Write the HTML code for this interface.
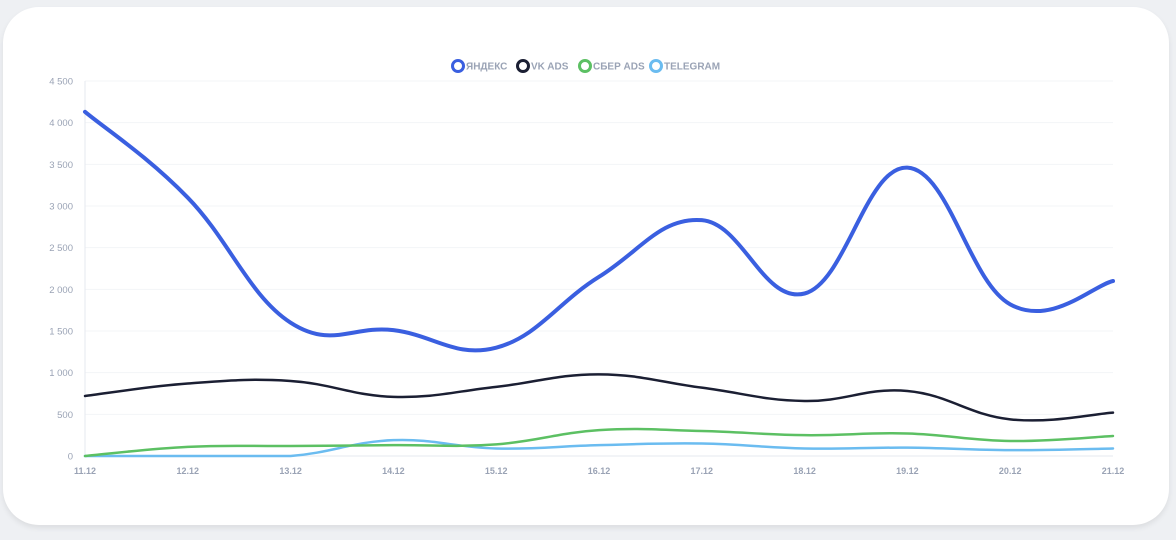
<!DOCTYPE html>
<html><head><meta charset="utf-8"><style>
html,body{margin:0;padding:0;background:#eef0f3;width:1176px;height:540px;overflow:hidden;font-family:"Liberation Sans",sans-serif}
.card{position:absolute;left:3px;top:7px;width:1166px;height:518px;background:#fff;border-radius:36px;box-shadow:0 3px 6px rgba(0,0,0,0.08)}
svg{position:absolute;left:0;top:0}
</style></head><body>
<div class="card"></div>
<svg id="s" width="1176" height="540" xmlns="http://www.w3.org/2000/svg" font-family="Liberation Sans, sans-serif"></svg>
<script>
const s=document.getElementById('s');
const x0=85,dx=102.8,y0=456,k=375/4500;
let h='';
for(let v=0;v<=4500;v+=500){const y=y0-v*k;
 if(v>0)h+=`<line x1="85" x2="1113" y1="${y}" y2="${y}" stroke="#f3f4f7" stroke-width="1"/>`;
 h+=`<text x="73" y="${y+3.5}" font-size="9.5" fill="#9aa3b5" text-anchor="end">${v>=1000?Math.floor(v/1000)+' '+String(v%1000).padStart(3,'0'):v}</text>`;}
h+=`<line x1="85" x2="85" y1="81" y2="456" stroke="#e6e9ef"/>`;
h+=`<line x1="85" x2="1113" y1="456" y2="456" stroke="#e6e9ef"/>`;
for(let i=0;i<11;i++)h+=`<text x="${x0+i*dx}" y="474" font-size="9" font-weight="bold" fill="#9aa3b5" text-anchor="middle">${11+i}.12</text>`;
const data=[
 ['#3a5fe0',4,[4130,3100,1600,1510,1300,2150,2830,1950,3460,1820,2100]],
 ['#1b1f33',2.5,[720,870,900,710,830,980,820,660,780,440,520]],
 ['#5cc063',2.5,[0,110,120,130,140,310,300,250,270,180,240]],
 ['#6bbcf0',2.5,[0,0,0,190,90,130,150,90,100,70,90]]];
function path(d){const p=d.map((v,i)=>[x0+i*dx,y0-v*k]);const n=p.length;const t=0.2;
 const cl=y=>Math.min(y,y0);
 let s=`M${p[0][0]},${p[0][1]}`;
 for(let i=0;i<n-1;i++){const a=p[i-1]||p[i],b=p[i],c=p[i+1],e=p[i+2]||c;
  s+=` C${b[0]+(c[0]-a[0])*t},${cl(b[1]+(c[1]-a[1])*t)} ${c[0]-(e[0]-b[0])*t},${cl(c[1]-(e[1]-b[1])*t)} ${c[0]},${c[1]}`;}return s;}
for(const [c,w,d] of [data[3],data[2],data[1],data[0]])h+=`<path d="${path(d)}" fill="none" stroke="${c}" stroke-width="${w}" stroke-linecap="round"/>`;
const leg=[['#3a5fe0','ЯНДЕКС',458],['#1b1f33','VK ADS',523],['#5cc063','СБЕР ADS',585],['#6bbcf0','TELEGRAM',656]];
for(const [c,t,x] of leg){h+=`<circle cx="${x}" cy="66" r="5.5" fill="#fff" stroke="${c}" stroke-width="3"/><text x="${x+8}" y="69.5" font-size="10" font-weight="bold" fill="#9aa3b5">${t}</text>`;}
s.innerHTML=h;
</script>
</body></html>
